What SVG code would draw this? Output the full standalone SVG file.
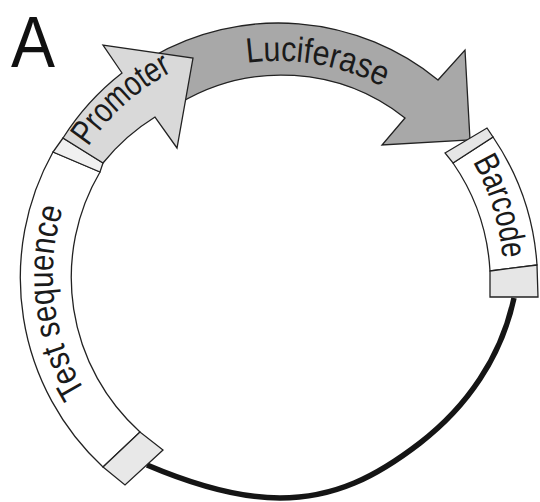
<svg xmlns="http://www.w3.org/2000/svg" xmlns:xlink="http://www.w3.org/1999/xlink" width="540" height="502" viewBox="0 0 540 502">
<style>
.band{stroke:#222;stroke-width:1.3;stroke-linejoin:miter}
.lbl{font-family:"Liberation Sans",Arial,Helvetica,sans-serif;font-size:35px;fill:#1a1a1a}
.backbone{fill:none;stroke:#151515;stroke-width:5.5;stroke-linecap:butt}
</style>
<defs>
<path id="p-test" d="M 85.5,391.6 A 224 224 0 0 1 74.1,179.9"/>
<path id="p-prom" d="M 88.2,146.9 A 228 228 0 0 1 218.7,53.8"/>
<path id="p-luc" d="M 247,63 A 224 224 0 0 1 406.5,101.5"/>
<path id="p-bar" d="M 472.5,161.8 A 225 225 0 0 1 502.1,294.6"/>
</defs>
<rect width="540" height="502" fill="#fff"/>
<text x="11" y="67" font-family="Liberation Sans,Arial,sans-serif" font-size="72" fill="#111" textLength="44" lengthAdjust="spacingAndGlyphs">A</text>
<g id="connectors">
<path class="backbone" d="M 147,465 C 188.4,482.6 235,498 280,498 C 335,498 376.5,476.5 420,443 C 467.4,406.4 501.4,356.8 514,298"/>
</g>
<g id="node-test-sequence">
<path class="band" fill="#fff" d="M 103,467 A 258 258 0 0 1 53,152 L 100,172 A 208 208 0 0 0 140,432 Z"/>
<polygon class="band" fill="#e8e8e8" points="103,467 140,432 163,450 125,485"/>
<polygon class="band" fill="#f0f0f0" points="53,152 100,172 103,163 63,138"/>
<text class="lbl"><textPath xlink:href="#p-test" href="#p-test" textLength="190" lengthAdjust="spacingAndGlyphs">Test sequence</textPath></text>
</g>
<g id="node-luciferase">
<path class="band" fill="#a8a8a8" d="M 152,57 A 252 252 0 0 1 438,80 L 465,50 L 470,140 L 382,145 L 405,118 A 199 199 0 0 0 179,103.5 Z"/>
<text class="lbl"><textPath xlink:href="#p-luc" href="#p-luc" textLength="140" lengthAdjust="spacingAndGlyphs">Luciferase</textPath></text>
</g>
<g id="node-promoter">
<path class="band" fill="#d9d9d9" d="M 63,138 A 256 256 0 0 1 122,73 L 103,45 L 193,58 L 177,148 L 155,117 A 204 204 0 0 0 103,163 Z"/>
<text class="lbl"><textPath xlink:href="#p-prom" href="#p-prom" textLength="114" lengthAdjust="spacingAndGlyphs">Promoter</textPath></text>
</g>
<g id="node-barcode">
<path class="band" fill="#fff" d="M 493,137 A 258 258 0 0 1 537,265 L 490,271 A 210 210 0 0 0 453,163 Z"/>
<polygon class="band" fill="#e6e6e6" points="445,153 487,128 493,137 453,163"/>
<polygon class="band" fill="#e6e6e6" points="490,271 537,265 538,297 490,297"/>
<text class="lbl"><textPath xlink:href="#p-bar" href="#p-bar" textLength="102" lengthAdjust="spacingAndGlyphs">Barcode</textPath></text>
</g>
</svg>
